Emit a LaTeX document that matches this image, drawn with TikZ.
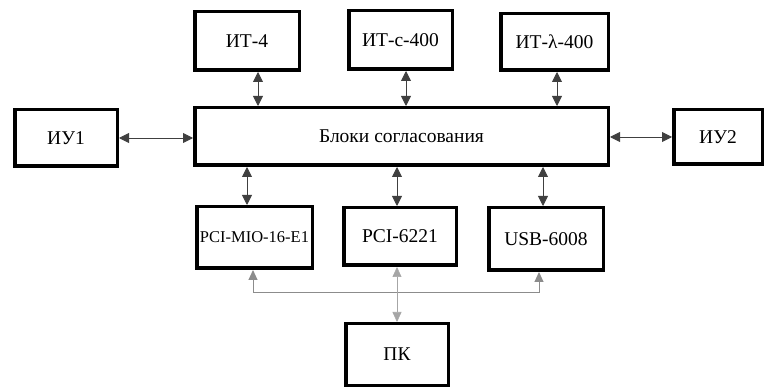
\documentclass[tikz,border=0pt]{standalone}
\usepackage{fontspec}
\setmainfont{Liberation Serif}
\newfontfamily\tfont{Liberation Serif}
\usetikzlibrary{arrows.meta}
\begin{document}
\begin{tikzpicture}[x=1pt,y=-1pt,
  box/.style={draw,line width=3.5pt,inner sep=0pt,font=\tfont\fontsize{19.5}{22}\selectfont},
  dbl/.style={{Triangle[length=10pt,width=10pt]}-{Triangle[length=10pt,width=10pt]},line width=0.9pt,draw=black!75},
  busline/.style={{Triangle[length=10pt,width=9pt]}-{Triangle[length=10pt,width=9pt]},line width=1pt,draw=black!45},
  thinline/.style={{Triangle[length=10pt,width=9pt]}-{Triangle[length=10pt,width=9pt]},line width=0.6pt,draw=black!35}]
\useasboundingbox (0,0) rectangle (766,387);
\node[box,minimum width=104.5pt,minimum height=58.5pt] (it4) at (247,41) {ИТ-4};
\node[box,minimum width=103.5pt,minimum height=58.5pt] (itc) at (400.5,40) {ИТ-с-400};
\node[box,minimum width=107.5pt,minimum height=56.5pt] (itl) at (554.5,42) {ИТ-λ-400};
\node[box,minimum width=413.5pt,minimum height=57.5pt] (main) at (401.5,136.5) {Блоки согласования};
\node[box,minimum width=102.5pt,minimum height=56.5pt] (iu1) at (66,138) {ИУ1};
\node[box,minimum width=88.5pt,minimum height=54.5pt] (iu2) at (718,137) {ИУ2};
\node[box,minimum width=115.5pt,minimum height=61.5pt,font=\tfont\fontsize{16.5}{20}\selectfont] (pci1) at (254.5,237.5) {PCI-MIO-16-E1};
\node[box,minimum width=112.5pt,minimum height=57.5pt] (pci2) at (400,236.5) {PCI-6221};
\node[box,minimum width=114.5pt,minimum height=62.5pt] (usb) at (546,239) {USB-6008};
\node[box,minimum width=102.5pt,minimum height=61.5pt] (pk) at (397,354.5) {ПК};
% vertical connectors
\coordinate (a1) at (258,0);
\coordinate (a2) at (406,0);
\coordinate (a3) at (557,0);
\coordinate (b1) at (247,0);
\coordinate (b2) at (397,0);
\coordinate (b3) at (543,0);
\draw[dbl] (it4.south -| a1) -- (main.north -| a1);
\draw[dbl] (itc.south -| a2) -- (main.north -| a2);
\draw[dbl] (itl.south -| a3) -- (main.north -| a3);
\draw[dbl] (main.south -| b1) -- (pci1.north -| b1);
\draw[dbl] (main.south -| b2) -- (pci2.north -| b2);
\draw[dbl] (main.south -| b3) -- (usb.north -| b3);
% horizontal connectors
\draw[dbl] (iu1.east) -- (main.west |- iu1.east);
\draw[dbl] (main.east |- iu2.west) -- (iu2.west);
% bus to PC
\coordinate (bl) at (253,293);
\coordinate (br) at (539,293);
\coordinate (bc) at (397,293);
\draw[busline] (pci1.south -| bl) -- (bl) -- (br) -- (usb.south -| br);
\draw[thinline] (pci2.south -| bc) -- (pk.north -| bc);
\end{tikzpicture}
\end{document}
